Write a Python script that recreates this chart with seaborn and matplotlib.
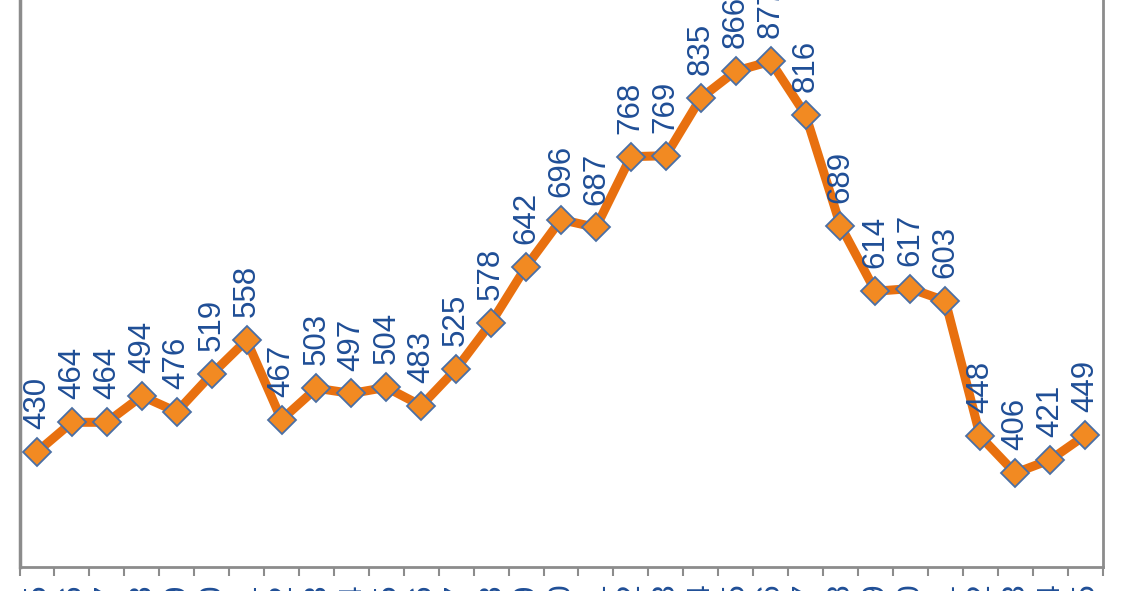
import matplotlib
matplotlib.use("Agg")
import matplotlib.pyplot as plt
import seaborn as sns
import pandas as pd
import numpy as np

years = [str(y) for y in range(1985, 2016)]
values = [430, 464, 464, 494, 476, 519, 558, 467, 503, 497, 504, 483, 525, 578,
          642, 696, 687, 768, 769, 835, 866, 877, 816, 689, 614, 617, 603, 448,
          406, 421, 449]

sns.set_theme(style="white")
plt.rcParams['font.family'] = ['Liberation Sans', 'DejaVu Sans']

df = pd.DataFrame({"year": years, "value": values, "pos": np.arange(len(years))})

fig = plt.figure(figsize=(11.28, 5.91), dpi=100)
ax = fig.add_axes([19.5 / 1128, 0.040, 1083 / 1128, 1.038])

line_color = "#E8700F"
sns.lineplot(data=df, x="pos", y="value", ax=ax, color=line_color, linewidth=6.5,
             marker="D", markersize=14.5, markerfacecolor="#F28A22",
             markeredgecolor="#4A6FA5", markeredgewidth=1.3, zorder=3)

text_color = "#1F4E96"
for x, v in zip(df["pos"], df["value"]):
    ax.annotate(str(v), (x, v), xytext=(0, 16.5), textcoords="offset points",
                rotation=90, ha="center", va="bottom", fontsize=22.5,
                color=text_color, zorder=4)

ax.set_xlim(-0.5, len(years) - 0.5)
ax.set_ylim(298, 1000)
ax.set_xticks(df["pos"])
ax.set_xticklabels(years, rotation=90, color=text_color, fontsize=22.5, va="top")
ax.tick_params(axis="x", which="major", length=0, pad=11)
ax.set_xticks(np.arange(-0.5, len(years)), minor=True)
ax.tick_params(axis="x", which="minor", length=6.5, width=1.5, color="#8C8C8C",
               direction="out", bottom=True)
ax.set_yticks([])
ax.set_xlabel("")
ax.set_ylabel("")

for s in ["left", "right", "bottom"]:
    ax.spines[s].set_visible(True)
    ax.spines[s].set_color("#8C8C8C")
    ax.spines[s].set_linewidth(2)
ax.spines["left"].set_linewidth(2.5)
ax.spines["top"].set_visible(False)

fig.savefig("out.png", dpi=100)
